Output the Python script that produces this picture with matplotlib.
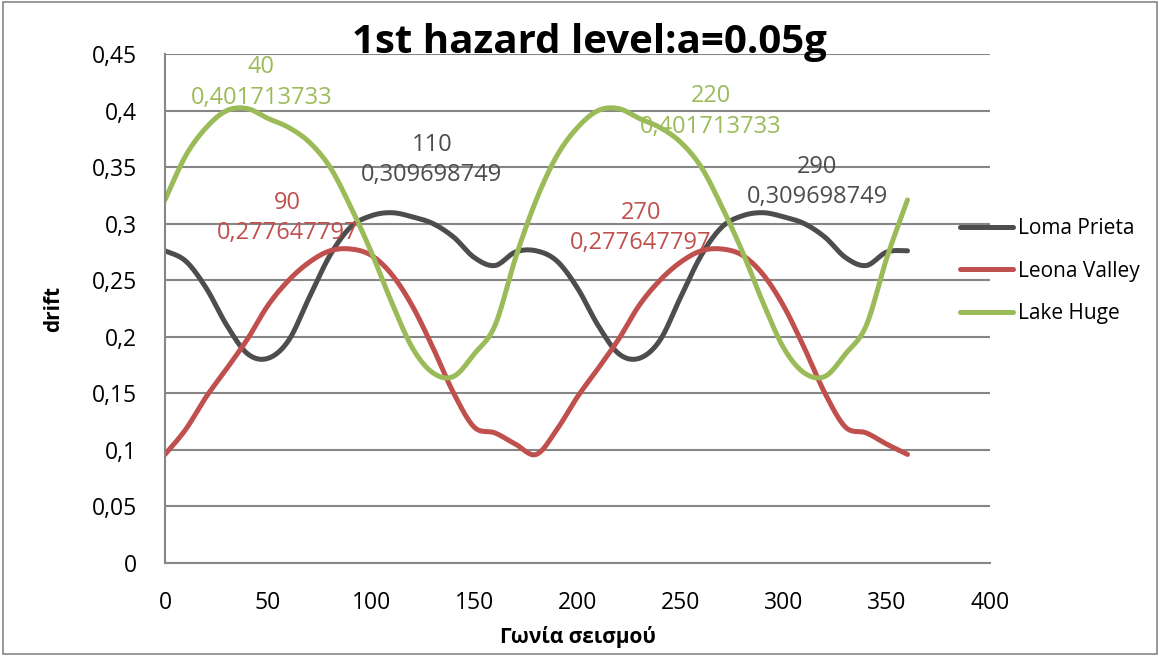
import numpy as np
import matplotlib
matplotlib.use("Agg")
import matplotlib.pyplot as plt
from matplotlib.patches import Rectangle

plt.rcParams['font.family'] = ['Open Sans', 'DejaVu Sans']

# Γωνία σεισμού (μοίρες)
angles = [0, 10, 20, 30, 40, 50, 60, 70, 80, 90, 100, 110, 120, 130, 140, 150, 160, 170, 180,
          190, 200, 210, 220, 230, 240, 250, 260, 270, 280, 290, 300, 310, 320, 330, 340, 350, 360]

loma_prieta = [0.276, 0.267, 0.243, 0.210, 0.185, 0.181, 0.197, 0.235, 0.272, 0.297, 0.307, 0.3097,
               0.306, 0.300, 0.288, 0.270, 0.263, 0.275, 0.276,
               0.267, 0.243, 0.210, 0.185, 0.181, 0.197, 0.235, 0.272, 0.297, 0.307, 0.3097,
               0.306, 0.300, 0.288, 0.270, 0.263, 0.275, 0.276]

leona_valley = [0.096, 0.118, 0.147, 0.172, 0.198, 0.228, 0.250, 0.266, 0.276, 0.2776, 0.272, 0.255,
                0.227, 0.190, 0.150, 0.120, 0.115, 0.105, 0.096,
                0.118, 0.147, 0.172, 0.198, 0.228, 0.250, 0.266, 0.276, 0.2776, 0.272, 0.255,
                0.227, 0.190, 0.150, 0.120, 0.115, 0.105, 0.096]

lake_huge = [0.321, 0.360, 0.385, 0.400, 0.4017, 0.393, 0.385, 0.372, 0.350, 0.315, 0.275, 0.230,
             0.190, 0.168, 0.165, 0.185, 0.210, 0.270, 0.321,
             0.360, 0.385, 0.400, 0.4017, 0.393, 0.385, 0.372, 0.350, 0.315, 0.275, 0.230,
             0.190, 0.168, 0.165, 0.185, 0.210, 0.270, 0.321]

series_names = ['Loma Prieta', 'Leona Valley', 'Lake Huge']
colors = ['#4d4d4d', '#c0504d', '#9bbb59']

# ετικέτες δεδομένων: (σειρά, γωνία, κείμενο, μετατόπιση σε pixels)
point_labels = [
    (2, 40, '40\n0,401713733', (14, 26)),
    (0, 110, '110\n0,309698749', (40, 53)),
    (1, 90, '90\n0,277647797', (-63, 31)),
    (2, 220, '220\n0,401713733', (92, -3)),
    (0, 290, '290\n0,309698749', (54, 31)),
    (1, 270, '270\n0,277647797', (-81, 21)),
]


# ομαλή καμπύλη τύπου Excel (Catmull-Rom / Bezier)
def smooth_curve(x, y, n=20):
    x = np.asarray(x, float)
    y = np.asarray(y, float)
    px = np.concatenate([[x[0]], x, [x[-1]]])
    py = np.concatenate([[y[0]], y, [y[-1]]])
    t = np.linspace(0, 1, n)
    xs, ys = [], []
    for i in range(1, len(px) - 2):
        p0 = np.array([px[i - 1], py[i - 1]])
        p1 = np.array([px[i], py[i]])
        p2 = np.array([px[i + 1], py[i + 1]])
        p3 = np.array([px[i + 2], py[i + 2]])
        c1 = p1 + (p2 - p0) / 6
        c2 = p2 - (p3 - p1) / 6
        b = ((1 - t) ** 3)[:, None] * p1 + (3 * (1 - t) ** 2 * t)[:, None] * c1 \
            + (3 * (1 - t) * t ** 2)[:, None] * c2 + (t ** 3)[:, None] * p2
        xs.extend(b[:, 0])
        ys.extend(b[:, 1])
    return xs, ys


fig = plt.figure(figsize=(11.6, 6.56), dpi=100)
fig.patches.append(Rectangle((0.003, 0.003), 0.994, 0.994, transform=fig.transFigure,
                             fill=False, edgecolor='#868686', linewidth=1.2))
ax = fig.add_axes([165 / 1160, 93 / 656, 825 / 1160, 509 / 656])

all_series = [loma_prieta, leona_valley, lake_huge]
for vals, name, col in zip(all_series, series_names, colors):
    sx, sy = smooth_curve(angles, vals)
    ax.plot(sx, sy, color=col, linewidth=3.6, label=name, solid_capstyle='round')

for idx, ang, txt, off in point_labels:
    val = all_series[idx][angles.index(ang)]
    ax.annotate(txt, (ang, val), xytext=off, textcoords='offset pixels',
                ha='center', va='center', color=colors[idx], fontsize=17, linespacing=1.35)

ax.set_xlim(0, 400)
ax.set_ylim(0, 0.45)
ax.set_xticks(np.arange(0, 401, 50))
ax.set_yticks(np.arange(0, 0.451, 0.05))
ax.set_yticklabels(['0', '0,05', '0,1', '0,15', '0,2', '0,25', '0,3', '0,35', '0,4', '0,45'])
ax.tick_params(length=0, labelsize=16.5)
ax.tick_params(axis='x', pad=20)
ax.tick_params(axis='y', pad=20)
ax.grid(axis='y', color='#868686', linewidth=1.5)
ax.set_axisbelow(True)
for s in ['top', 'right']:
    ax.spines[s].set_visible(False)
for s in ['left', 'bottom']:
    ax.spines[s].set_color('#868686')
    ax.spines[s].set_linewidth(1.5)

ax.set_xlabel('Γωνία σεισμού', fontsize=15, fontweight='bold', labelpad=8)
ax.set_ylabel('drift', fontsize=15, fontweight='bold', labelpad=20)
fig.text(589 / 1160, 1 - 42 / 656, '1st hazard level:a=0.05g', ha='center', va='center',
         fontsize=29, fontweight='bold')

ax.legend(loc='center left', bbox_to_anchor=(960 / 1160, 1 - 271 / 656), bbox_transform=fig.transFigure,
          frameon=False, fontsize=15, handlelength=2.55, labelspacing=1.04, handletextpad=0.25,
          borderpad=0, borderaxespad=0)

fig.savefig('out.png', dpi=100)
